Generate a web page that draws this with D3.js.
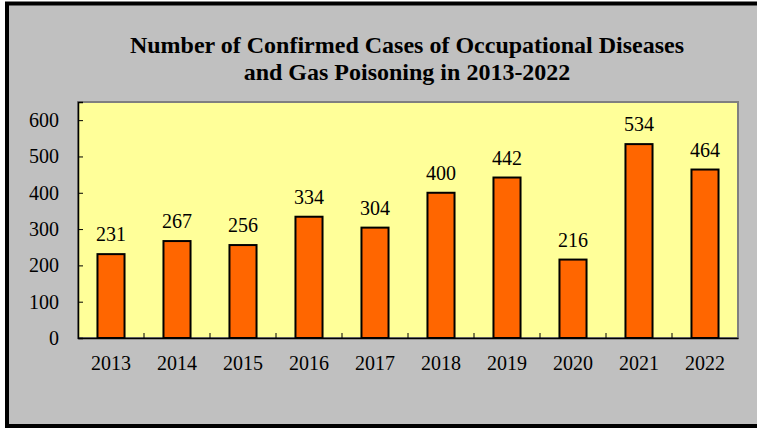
<!DOCTYPE html>
<html>
<head>
<meta charset="utf-8">
<script src="https://cdn.jsdelivr.net/npm/d3@7"></script>
<style>
  body { margin: 0; background: #fff; }
  svg { display: block; }
  text { font-family: "Liberation Serif", "Times New Roman", serif; fill: #000; }
</style>
</head>
<body>
<svg id="chart" width="757" height="428"></svg>
<script>
// data
const years = ["2013", "2014", "2015", "2016", "2017", "2018", "2019", "2020", "2021", "2022"];
const cases = [231, 267, 256, 334, 304, 400, 442, 216, 534, 464];
const yTicks = [0, 100, 200, 300, 400, 500, 600];
const titleLines = ["Number of Confirmed Cases of Occupational Diseases", "and Gas Poisoning in 2013-2022"];

const svg = d3.select("#chart");

// outer frame
svg.append("rect")
  .attr("x", 0).attr("y", 0).attr("width", 757).attr("height", 428)
  .attr("fill", "#fff");
svg.append("rect")
  .attr("x", 7).attr("y", 3.5).attr("width", 760).attr("height", 422.5)
  .attr("fill", "#c0c0c0")
  .attr("stroke", "#000").attr("stroke-width", 4);

// title
svg.append("g").selectAll("text")
  .data(titleLines)
  .enter()
  .append("text")
  .attr("x", 407)
  .attr("y", (d, i) => 53 + i * 27)
  .attr("text-anchor", "middle")
  .style("font-size", "24px")
  .style("font-weight", "bold")
  .text(d => d);

const plotL = 78, plotR = 738, plotT = 102, plotB = 338;

const x = d3.scaleBand().domain(years).range([plotL, plotR])
  .paddingInner(0.59).paddingOuter(0.295);
const xCat = d3.scaleBand().domain(years).range([plotL, plotR]);
const y = d3.scaleLinear().domain([0, 650]).range([plotB, plotT]);

// plot area
svg.append("rect")
  .attr("x", plotL).attr("y", plotT)
  .attr("width", plotR - plotL).attr("height", plotB - plotT)
  .attr("fill", "#ffff99")
  .attr("stroke", "#808080").attr("stroke-width", 2);

// bars
svg.append("g").selectAll("rect")
  .data(cases)
  .enter()
  .append("rect")
  .attr("x", (d, i) => x(years[i]))
  .attr("y", d => y(d))
  .attr("width", x.bandwidth())
  .attr("height", d => y(0) - y(d))
  .attr("fill", "#ff6600")
  .attr("stroke", "#000")
  .attr("stroke-width", 2);

// value labels
svg.append("g").selectAll("text")
  .data(cases)
  .enter()
  .append("text")
  .attr("x", (d, i) => x(years[i]) + x.bandwidth() / 2)
  .attr("y", d => y(d) - 13)
  .attr("text-anchor", "middle")
  .style("font-size", "20px")
  .text(d => d);

// y axis
const yAxis = svg.append("g")
  .attr("transform", "translate(" + plotL + ",0)")
  .call(d3.axisLeft(y).tickValues(yTicks).tickSize(-5).tickPadding(19));
yAxis.select(".domain").attr("stroke", "#000").attr("stroke-width", 1.5);
yAxis.selectAll(".tick line").attr("stroke", "#000");
yAxis.selectAll(".tick text")
  .style("font-size", "20px")
  .style("font-family", "Liberation Serif, serif");

// x axis
const xAxis = svg.append("g")
  .attr("transform", "translate(0," + plotB + ")")
  .call(d3.axisBottom(xCat).tickSize(0).tickPadding(0));
xAxis.select(".domain").attr("stroke", "#000").attr("stroke-width", 1.5);
xAxis.selectAll(".tick text")
  .attr("y", 32).attr("dy", 0)
  .style("font-size", "20px")
  .style("font-family", "Liberation Serif, serif");

// category boundary ticks, pointing up into the plot
svg.append("g").selectAll("line")
  .data(years.slice(1))
  .enter()
  .append("line")
  .attr("x1", d => xCat(d)).attr("x2", d => xCat(d))
  .attr("y1", plotB).attr("y2", plotB - 5)
  .attr("stroke", "#000");
</script>
</body>
</html>
